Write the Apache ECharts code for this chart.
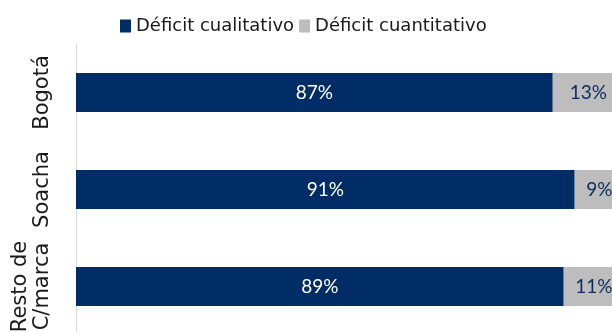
<!DOCTYPE html>
<html>
<head>
<meta charset="utf-8">
<script src="https://cdn.jsdelivr.net/npm/echarts@6/dist/echarts.min.js"></script>
<style>
  html, body { margin: 0; padding: 0; background: #ffffff; }
  #chart { width: 612px; height: 332px; }
</style>
</head>
<body>
<div id="chart"></div>
<script>
// Regions and the share of each housing deficit type (%)
const categories = ['Bogotá', 'Soacha', 'Resto de\nC/marca'];
const cualitativo = [87, 91, 89];
const cuantitativo = [13, 9, 11];
const seriesNames = ['Déficit cualitativo', 'Déficit cuantitativo'];

const chart = echarts.init(document.getElementById('chart'));

const textFont = '"DejaVu Sans", sans-serif';
const labelFont = 'Lato, "Open Sans", sans-serif';

chart.setOption({
  animation: false,
  legend: {
    top: 12,
    left: 115,
    itemWidth: 11,
    itemHeight: 13,
    itemGap: 5,
    icon: 'rect',
    textStyle: { fontSize: 18, color: '#1a1a1a', fontFamily: textFont },
    data: seriesNames
  },
  // The plot runs past the right edge of the page, so the grid is not clamped to it
  grid: { left: 76, top: 44, width: 548, height: 291, outerBoundsMode: 'none', containLabel: false },
  xAxis: {
    type: 'value',
    min: 0,
    max: 100,
    show: false
  },
  yAxis: {
    type: 'category',
    inverse: true,
    data: categories,
    axisLine: { show: true, lineStyle: { color: '#d9d9d9', width: 1 } },
    axisTick: { show: false },
    axisLabel: {
      interval: 0,
      hideOverlap: false,
      rotate: 90,
      margin: 22,
      fontSize: 21,
      lineHeight: 22,
      color: '#1a1a1a',
      fontFamily: textFont
    }
  },
  series: [
    {
      name: seriesNames[0],
      type: 'bar',
      stack: 'total',
      data: cualitativo,
      barWidth: 39,
      clip: false,
      itemStyle: { color: '#002d65' },
      label: {
        show: true,
        position: 'inside',
        formatter: '{c}%',
        color: '#ffffff',
        fontSize: 19,
        fontFamily: labelFont
      }
    },
    {
      name: seriesNames[1],
      type: 'bar',
      stack: 'total',
      data: cuantitativo,
      barWidth: 39,
      clip: false,
      itemStyle: { color: '#bdbdbd' },
      label: {
        show: true,
        position: 'inside',
        formatter: '{c}%',
        color: '#0d2d5e',
        fontSize: 19,
        fontFamily: labelFont
      }
    }
  ]
});
</script>
</body>
</html>
